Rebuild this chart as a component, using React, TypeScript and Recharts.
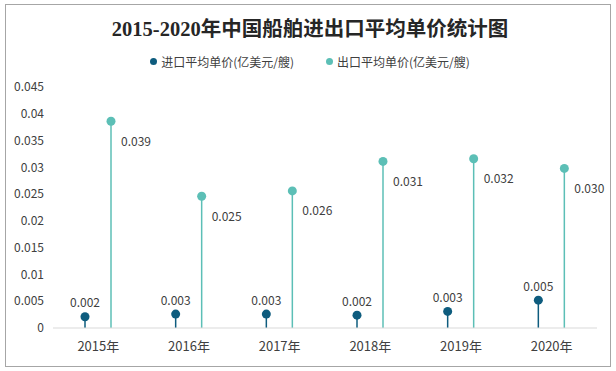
import React from 'react';
import { ComposedChart, Bar, XAxis, YAxis, LabelList } from 'recharts';

// 年份
const years = ['2015年', '2016年', '2017年', '2018年', '2019年', '2020年'];
// 进口平均单价(亿美元/艘)
const importPrice = [0.0021, 0.0026, 0.0026, 0.0024, 0.0031, 0.0052];
// 出口平均单价(亿美元/艘)
const exportPrice = [0.0386, 0.0246, 0.0256, 0.0311, 0.0316, 0.0298];
const yTicks = [0, 0.005, 0.01, 0.015, 0.02, 0.025, 0.03, 0.035, 0.04, 0.045];

const IMPORT_COLOR = '#0e5c7e';
const EXPORT_COLOR = '#5cbfb6';
const FONT = '"Noto Sans CJK SC", "Open Sans", sans-serif';

const data = years.map((year, i) => ({
  year,
  importPrice: importPrice[i],
  exportPrice: exportPrice[i],
}));

const fmt = (v: number) => (Math.round(v * 1000) / 1000).toFixed(3);

const Lollipop = (props: any) => {
  const { x, y, width, height, fill } = props;
  const cx = x + width / 2;
  return (
    <g>
      <line x1={cx} y1={y} x2={cx} y2={y + height} stroke={fill} strokeWidth={1.5} />
      <circle cx={cx} cy={y} r={4.5} fill={fill} />
    </g>
  );
};

const ImportLabel = (props: any) => {
  const { x, y, width, value } = props;
  return (
    <text x={x + width / 2} y={y - 15} textAnchor="middle" dominantBaseline="central"
      fontSize={12} fontFamily={FONT} fill="#404040">
      {fmt(value)}
    </text>
  );
};

const ExportLabel = (props: any) => {
  const { x, y, width, value } = props;
  return (
    <text x={x + width / 2 + 10} y={y + 19} textAnchor="start" dominantBaseline="central"
      fontSize={12} fontFamily={FONT} fill="#404040">
      {fmt(value)}
    </text>
  );
};

const legendItems = [
  { name: '进口平均单价(亿美元/艘)', color: IMPORT_COLOR },
  { name: '出口平均单价(亿美元/艘)', color: EXPORT_COLOR },
];

export default function App() {
  return (
    <div style={{ position: 'absolute', left: 0, top: 0, width: 616, height: 371, background: '#fff' }}>
      <div style={{ position: 'absolute', left: 5, top: 4, width: 604, height: 361, border: '1px solid #a6a6a6' }} />
      <div style={{
        position: 'absolute', left: 0, top: 12, width: 620, textAlign: 'center',
        fontFamily: '"Liberation Serif", "Noto Sans CJK SC", serif', fontWeight: 'bold', fontSize: 20.5, color: '#262626',
      }}>
        2015-2020年中国船舶进出口平均单价统计图
      </div>
      <div style={{
        position: 'absolute', left: 0, top: 53, width: 620, display: 'flex', justifyContent: 'center',
        fontFamily: FONT, fontSize: 12, color: '#404040',
      }}>
        {legendItems.map((item, i) => (
          <div key={item.name} style={{ display: 'flex', alignItems: 'center', marginLeft: i ? 32 : 0 }}>
            <span style={{ width: 7, height: 7, borderRadius: '50%', background: item.color, marginRight: 4 }} />
            <span>{item.name}</span>
          </div>
        ))}
      </div>
      <ComposedChart width={616} height={371} data={data} style={{ position: 'absolute', left: 0, top: 0 }}
        margin={{ top: 87, right: 19, bottom: 13, left: 8 }} barSize={10} barGap={16}>
        <XAxis dataKey="year" axisLine={{ stroke: '#d9d9d9' }} tickLine={false} height={30}
          tick={{ fontSize: 13, fontFamily: FONT, fill: '#404040' }} tickMargin={8} />
        <YAxis domain={[0, 0.045]} ticks={yTicks} axisLine={false} tickLine={false} width={45}
          tick={{ fontSize: 12, fontFamily: FONT, fill: '#404040' }} tickMargin={3}
          tickFormatter={(v: number) => String(v)} />
        <Bar dataKey="importPrice" name="进口平均单价(亿美元/艘)" fill={IMPORT_COLOR} shape={Lollipop} isAnimationActive={false}>
          <LabelList dataKey="importPrice" content={ImportLabel} />
        </Bar>
        <Bar dataKey="exportPrice" name="出口平均单价(亿美元/艘)" fill={EXPORT_COLOR} shape={Lollipop} isAnimationActive={false}>
          <LabelList dataKey="exportPrice" content={ExportLabel} />
        </Bar>
      </ComposedChart>
    </div>
  );
}
